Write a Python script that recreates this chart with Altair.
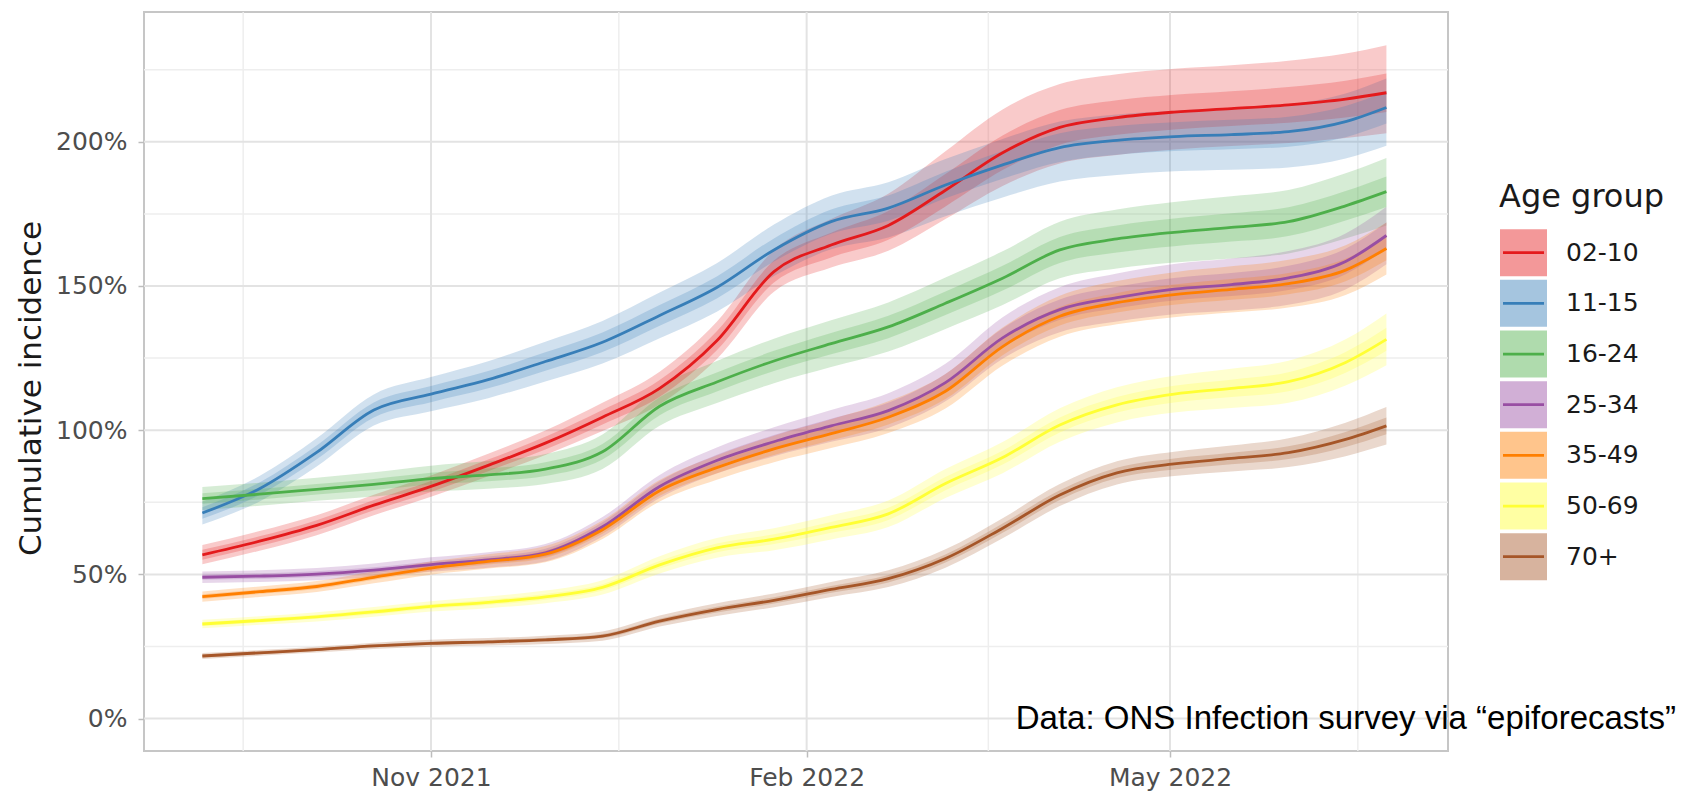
import altair as alt
import pandas as pd

# Sampling dates for the cumulative incidence estimates
dates = [
    "2021-09-06", "2021-09-20", "2021-10-04", "2021-10-18", "2021-11-01",
    "2021-11-15", "2021-11-29", "2021-12-13", "2021-12-27", "2022-01-10",
    "2022-01-24", "2022-02-07", "2022-02-21", "2022-03-07", "2022-03-21",
    "2022-04-04", "2022-04-18", "2022-05-02", "2022-05-16", "2022-05-30",
    "2022-06-13", "2022-06-23",
]

groups = ["02-10", "11-15", "16-24", "25-34", "35-49", "50-69", "70+"]
colors = ["#E41A1C", "#377EB8", "#4DAF4A", "#984EA3", "#FF7F00", "#FFFF33", "#A65628"]

# Median cumulative incidence (%)
incidence = {
    "02-10": [56.8, 61.5, 67.0, 74.0, 80.5, 87.8, 95.5, 104.5, 114.5, 131.0, 155.0,
              164.2, 171.0, 183.2, 196.2, 205.0, 208.4, 210.3, 211.5, 212.8, 214.8, 217.0],
    "11-15": [71.3, 79.7, 92.3, 107.0, 112.5, 117.5, 123.8, 130.5, 139.8, 149.5, 162.5,
              172.3, 177.0, 185.0, 192.0, 198.0, 200.5, 201.8, 202.5, 203.5, 207.0, 211.9],
    "16-24": [76.3, 77.8, 79.5, 81.2, 83.2, 84.5, 86.5, 92.5, 108.3, 116.7, 124.0,
              130.0, 135.8, 144.0, 152.7, 162.5, 166.3, 168.6, 170.3, 172.3, 177.8, 182.7],
    "25-34": [49.0, 49.4, 50.1, 51.5, 53.4, 55.0, 57.5, 66.5, 80.5, 89.5, 96.0,
              101.5, 106.8, 116.5, 132.0, 141.8, 146.0, 148.9, 150.5, 152.8, 158.5, 167.5],
    "35-49": [42.3, 44.0, 45.8, 49.0, 52.2, 54.5, 57.0, 65.5, 79.0, 87.0, 93.5,
              98.8, 104.5, 113.5, 129.0, 139.5, 144.2, 147.0, 148.8, 150.8, 155.5, 163.0],
    "50-69": [32.8, 34.0, 35.3, 37.0, 38.9, 40.3, 42.2, 45.5, 53.3, 59.2, 62.2,
              66.3, 71.0, 81.5, 90.5, 101.8, 108.8, 112.5, 114.5, 116.8, 123.5, 131.5],
    "70+":   [21.7, 22.8, 23.9, 25.2, 26.1, 26.6, 27.3, 28.6, 33.8, 37.8, 41.0,
              44.8, 48.5, 55.5, 66.0, 77.5, 85.2, 88.3, 90.2, 92.2, 96.8, 101.5],
}

# Distance from the median to the upper edge of the 90% band
upper90 = {
    "02-10": [3.4, 3.5, 3.5, 3.6, 3.8, 4.0, 4.4, 5.0, 5.8, 6.6, 7.5,
              9.0, 11.0, 13.5, 15.0, 15.0, 15.0, 15.0, 15.0, 15.3, 15.8, 16.5],
    "11-15": [4.0, 4.4, 4.9, 5.4, 5.9, 6.4, 6.9, 7.4, 7.9, 8.4, 8.8,
              9.0, 9.0, 9.0, 9.0, 9.0, 9.0, 9.0, 9.2, 9.4, 9.7, 10.0],
    "16-24": [4.0, 4.0, 4.0, 4.2, 4.5, 4.8, 5.2, 6.0, 6.8, 7.3, 7.7,
              8.1, 8.5, 8.9, 9.3, 9.8, 10.2, 10.5, 10.8, 11.0, 11.3, 11.7],
    "25-34": [2.0, 2.0, 2.1, 2.3, 2.5, 2.7, 3.0, 3.4, 4.0, 4.5, 5.0,
              5.5, 6.0, 6.5, 7.2, 7.8, 8.3, 8.7, 9.0, 9.3, 9.7, 10.0],
    "35-49": [1.8, 1.8, 1.9, 2.1, 2.3, 2.5, 2.8, 3.2, 3.7, 4.2, 4.6,
              5.0, 5.5, 6.0, 6.6, 7.1, 7.5, 7.8, 8.0, 8.3, 8.6, 9.0],
    "50-69": [1.5, 1.5, 1.6, 1.7, 1.8, 2.0, 2.2, 2.5, 3.0, 3.4, 3.8,
              4.2, 4.6, 5.0, 5.4, 5.8, 6.1, 6.4, 6.8, 7.3, 8.0, 9.0],
    "70+":   [1.0, 1.0, 1.0, 1.1, 1.2, 1.3, 1.4, 1.6, 1.9, 2.2, 2.4,
              2.6, 2.9, 3.2, 3.5, 3.8, 4.0, 4.2, 4.5, 5.0, 5.8, 6.5],
}

# Distance from the median to the lower edge of the 90% band
lower90 = {
    "02-10": [3.3, 3.3, 3.4, 3.5, 3.6, 3.8, 4.1, 4.8, 5.5, 6.3, 7.0,
              7.8, 8.8, 10.0, 11.5, 12.5, 13.0, 13.0, 13.0, 13.2, 13.5, 14.0],
    "11-15": [4.0, 4.4, 4.9, 5.4, 5.9, 6.4, 6.9, 7.4, 7.9, 8.4, 9.0,
              9.6, 10.2, 10.8, 11.3, 11.8, 12.0, 12.0, 12.2, 12.4, 12.8, 13.3],
    "16-24": [4.0, 4.0, 4.0, 4.2, 4.5, 4.8, 5.2, 6.0, 6.8, 7.3, 7.7,
              8.1, 8.5, 8.9, 9.3, 9.8, 10.2, 10.5, 10.8, 11.0, 11.3, 11.7],
    "25-34": [2.0, 2.0, 2.1, 2.3, 2.5, 2.7, 3.0, 3.4, 4.0, 4.5, 5.0,
              5.5, 6.0, 6.5, 7.2, 7.8, 8.3, 8.7, 9.0, 9.3, 9.7, 10.0],
    "35-49": [1.8, 1.8, 1.9, 2.1, 2.3, 2.5, 2.8, 3.2, 3.7, 4.2, 4.6,
              5.0, 5.5, 6.0, 6.6, 7.1, 7.5, 7.8, 8.0, 8.3, 8.6, 9.0],
    "50-69": [1.5, 1.5, 1.6, 1.7, 1.8, 2.0, 2.2, 2.5, 3.0, 3.4, 3.8,
              4.2, 4.6, 5.0, 5.4, 5.8, 6.1, 6.4, 6.8, 7.3, 8.0, 9.0],
    "70+":   [1.0, 1.0, 1.0, 1.1, 1.2, 1.3, 1.4, 1.6, 1.9, 2.2, 2.4,
              2.6, 2.9, 3.2, 3.5, 3.8, 4.0, 4.2, 4.5, 5.0, 5.8, 6.5],
}

# Half width of the 50% band
half50 = {
    "02-10": [1.7, 1.7, 1.8, 1.8, 1.9, 2.0, 2.2, 2.5, 2.9, 3.3, 3.8,
              4.3, 5.0, 5.6, 6.0, 6.0, 6.0, 6.0, 6.0, 6.2, 6.4, 6.7],
    "11-15": [2.0, 2.2, 2.4, 2.6, 2.8, 3.0, 3.2, 3.4, 3.6, 3.8, 4.0,
              4.2, 4.4, 4.6, 4.8, 5.0, 5.0, 5.0, 5.1, 5.2, 5.4, 5.6],
    "16-24": [1.8, 1.8, 1.8, 1.9, 2.0, 2.2, 2.4, 2.7, 3.1, 3.3, 3.5,
              3.7, 3.9, 4.1, 4.3, 4.5, 4.7, 4.8, 4.9, 5.0, 5.1, 5.3],
    "25-34": [0.9, 0.9, 1.0, 1.0, 1.1, 1.2, 1.4, 1.6, 1.8, 2.0, 2.3,
              2.5, 2.7, 3.0, 3.3, 3.5, 3.7, 3.9, 4.0, 4.2, 4.4, 4.5],
    "35-49": [0.8, 0.8, 0.9, 0.9, 1.0, 1.1, 1.3, 1.4, 1.7, 1.9, 2.1,
              2.3, 2.5, 2.7, 3.0, 3.2, 3.4, 3.5, 3.6, 3.7, 3.9, 4.1],
    "50-69": [0.7, 0.7, 0.7, 0.8, 0.8, 0.9, 1.0, 1.1, 1.3, 1.5, 1.7,
              1.9, 2.1, 2.3, 2.4, 2.6, 2.7, 2.9, 3.0, 3.3, 3.6, 4.0],
    "70+":   [0.5, 0.5, 0.5, 0.5, 0.5, 0.6, 0.6, 0.7, 0.8, 1.0, 1.1,
              1.2, 1.3, 1.4, 1.6, 1.7, 1.8, 1.9, 2.0, 2.2, 2.6, 2.9],
}

y_major = [0, 50, 100, 150, 200]
y_minor = [25, 75, 125, 175, 225]
x_major = ["2021-11-01T00:00:00", "2022-02-01T00:00:00", "2022-05-01T00:00:00"]
x_minor = ["2021-09-16T00:00:00", "2021-12-17T00:00:00", "2022-03-17T12:00:00", "2022-06-16T00:00:00"]

legend_title = "Age group"
caption = "Data: ONS Infection survey via \u201cepiforecasts\u201d"

rows = []
for g in groups:
    for i, d in enumerate(dates):
        m = incidence[g][i]
        rows.append({
            "date": d + "T00:00:00",
            "group": g,
            "mid": m,
            "lo90": m - lower90[g][i],
            "hi90": m + upper90[g][i],
            "lo50": m - half50[g][i],
            "hi50": m + half50[g][i],
        })
df = pd.DataFrame(rows)

FONT = "DejaVu Sans"

x_scale = alt.Scale(
    domain=[alt.DateTime(year=2021, month=8, date=22, hours=17),
            alt.DateTime(year=2022, month=7, date=8, hours=2)],
    nice=False,
)
y_scale = alt.Scale(domain=[-11.24, 245.0], nice=False, zero=False)

x_axis = alt.Axis(
    title=None, values=[alt.DateTime(year=2021, month=11, date=1),
                        alt.DateTime(year=2022, month=2, date=1),
                        alt.DateTime(year=2022, month=5, date=1)],
    format="%b %Y", grid=False, domain=False,
    tickColor="#BDBDBD", tickWidth=1.5, tickSize=6,
    labelFont=FONT, labelFontSize=25, labelColor="#4D4D4D", labelPadding=8,
)
y_axis = alt.Axis(
    title="Cumulative incidence", values=y_major, labelExpr="datum.value + '%'",
    grid=False, domain=False,
    tickColor="#BDBDBD", tickWidth=1.5, tickSize=6,
    labelFont=FONT, labelFontSize=25, labelColor="#4D4D4D", labelPadding=11,
    titleFont=FONT, titleFontSize=31, titleFontWeight="normal", titleColor="#1A1A1A",
    titleAngle=270, titleX=-104, titleY=376, titleAlign="center", titleBaseline="alphabetic",
)

# Minor and major grid lines
vminor = alt.Chart(pd.DataFrame({"date": x_minor})).mark_rule(
    color="#EEEEEE", strokeWidth=1.5).encode(x=alt.X("date:T", scale=x_scale, axis=x_axis))
hminor = alt.Chart(pd.DataFrame({"mid": y_minor})).mark_rule(
    color="#EEEEEE", strokeWidth=1.5).encode(y=alt.Y("mid:Q", scale=y_scale, axis=y_axis))
vmajor = alt.Chart(pd.DataFrame({"date": x_major})).mark_rule(
    color="#E3E3E3", strokeWidth=2).encode(x=alt.X("date:T", scale=x_scale, axis=x_axis))
hmajor = alt.Chart(pd.DataFrame({"mid": y_major})).mark_rule(
    color="#E3E3E3", strokeWidth=2).encode(y=alt.Y("mid:Q", scale=y_scale, axis=y_axis))

base = alt.Chart(df)
fill_enc = alt.Fill("group:N", scale=alt.Scale(domain=groups, range=colors), legend=None)

band90 = base.mark_area(opacity=0.23, interpolate="monotone").encode(
    x=alt.X("date:T", scale=x_scale, axis=x_axis),
    y=alt.Y("lo90:Q", scale=y_scale, axis=y_axis),
    y2="hi90:Q",
    fill=fill_enc,
)
band50 = base.mark_area(opacity=0.23, interpolate="monotone").encode(
    x=alt.X("date:T", scale=x_scale, axis=x_axis),
    y=alt.Y("lo50:Q", scale=y_scale, axis=y_axis),
    y2="hi50:Q",
    fill=fill_enc,
)
lines = base.mark_line(strokeWidth=2.8, interpolate="monotone").encode(
    x=alt.X("date:T", scale=x_scale, axis=x_axis),
    y=alt.Y("mid:Q", scale=y_scale, axis=y_axis),
    stroke=alt.Stroke("group:N", scale=alt.Scale(domain=groups, range=colors), legend=None),
)

plot = alt.layer(vminor, hminor, vmajor, hmajor, band90, band50, lines)

# Legend: one row per age group, a translucent swatch with the line colour across it
leg_df = pd.DataFrame({"group": groups})
leg_y = alt.Y("group:N", scale=alt.Scale(domain=groups, range=[240.7, 544.7], padding=0), axis=None)
swatches = alt.Chart(leg_df).mark_point(
    shape="square", filled=True, size=2209, opacity=0.45, strokeWidth=0,
).encode(
    x=alt.value(1379.5), y=leg_y,
    fill=alt.Fill("group:N", scale=alt.Scale(domain=groups, range=colors), legend=None),
)
keylines = alt.Chart(leg_df).mark_point(
    shape="stroke", filled=False, size=1681, strokeWidth=2.8, opacity=1,
).encode(
    x=alt.value(1379.5), y=leg_y,
    stroke=alt.Stroke("group:N", scale=alt.Scale(domain=groups, range=colors), legend=None),
)
keylabels = alt.Chart(leg_df).mark_text(
    align="left", baseline="middle", font=FONT, fontSize=25, color="#1A1A1A",
).encode(x=alt.value(1422), y=leg_y, text="group:N")
keytitle = alt.Chart(pd.DataFrame({"t": [legend_title]})).mark_text(
    align="left", baseline="alphabetic", font=FONT, fontSize=32, color="#1A1A1A",
).encode(x=alt.value(1355), y=alt.value(194.7), text="t:N")

note = alt.Chart(pd.DataFrame({"t": [caption]})).mark_text(
    font="Liberation Sans", fontSize=33, color="#000000", align="right", baseline="alphabetic",
).encode(text="t:N", x=alt.value(1532), y=alt.value(717))

legend = alt.layer(swatches, keylines, keylabels, keytitle, note)

chart = alt.layer(plot, legend).resolve_scale(y="independent").properties(
    width=1304, height=739,
    autosize=alt.AutoSizeParams(type="none"),
    padding={"left": 144, "top": 12, "right": 234, "bottom": 55},
).configure(font=FONT).configure_view(stroke="#C6C6C6", strokeWidth=2)

chart.save("out.html", embed_options={"renderer": "svg", "actions": False})
